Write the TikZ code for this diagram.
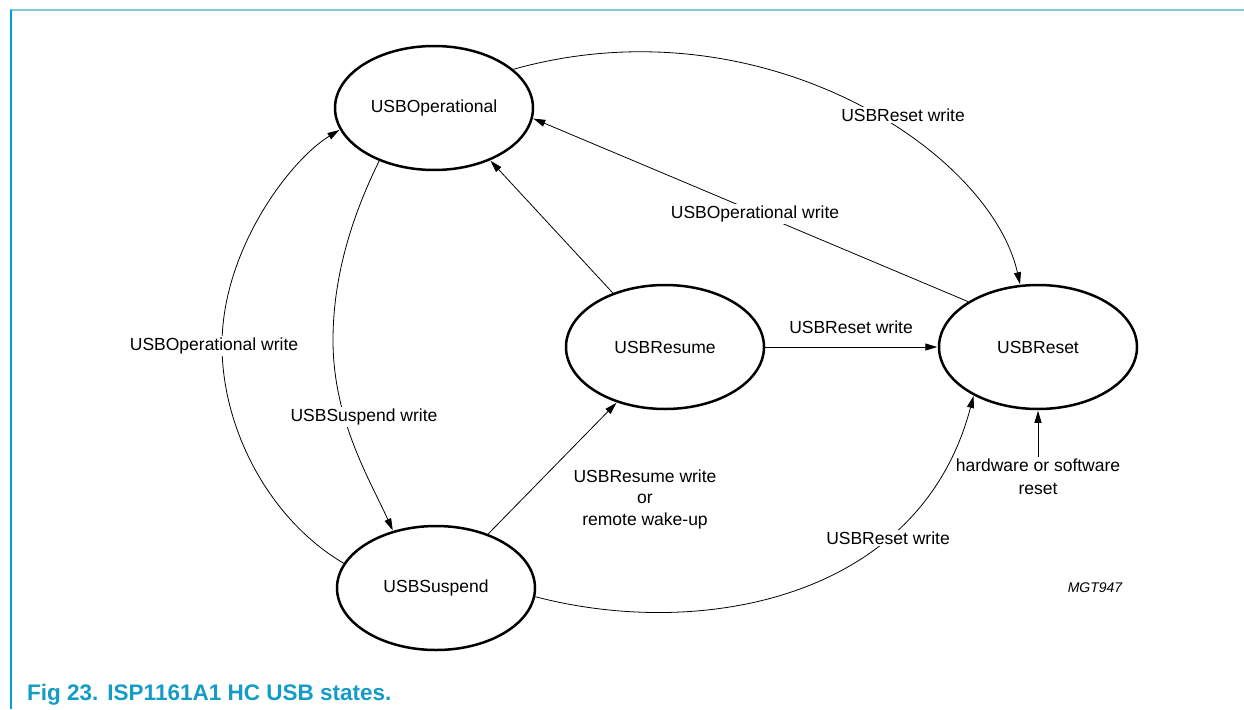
\documentclass[tikz,border=0pt]{standalone}
\usepackage{fontspec}
\setmainfont{Liberation Sans}
\usetikzlibrary{arrows.meta,shapes.geometric}
\definecolor{capblue}{RGB}{20,155,200}
\definecolor{topline}{RGB}{125,205,225}
\definecolor{leftline}{RGB}{0,160,210}
\begin{document}
\begin{tikzpicture}[x=1pt,y=-1pt,
  state/.style={ellipse,draw,line width=2.5pt,minimum width=198pt,minimum height=124pt,inner sep=0pt,font=\fontsize{17.5}{21}\selectfont},
  trans/.style={line width=0.8pt,-{Triangle[length=12pt,width=7pt]},shorten >=0.5pt},
  lbl/.style={fill=white,inner sep=2pt,font=\fontsize{17.5}{21}\selectfont,align=center}]
\useasboundingbox (0,0) rectangle (1244,709);
\draw[topline,line width=2pt] (10,10) -- (1244,10);
\draw[leftline,line width=1.5pt] (11,10) -- (11,709);

\node[state] (op) at (434,108) {USBOperational};
\node[state] (res) at (665,347) {USBResume};
\node[state] (rst) at (1038,347) {USBReset};
\node[state] (sus) at (436,588) {USBSuspend};

\draw[trans] (op.26) .. controls (760,0) and (990,150) .. (rst.106);
\draw[trans] (rst.147) -- (op.-6);
\draw[trans] (res.134) -- (op.-43);
\draw[trans] (res) -- (rst);
\draw[trans] (sus.46) -- (res.-131);
\draw[trans] (sus.-5) .. controls (700,640) and (920,600) .. (rst.-143);
\draw[trans] (op.224) .. controls (350,220) and (333,280) .. (333,340) .. controls (333,420) and (370,480) .. (sus.127);
\draw[trans] (sus.165) .. controls (270,520) and (222,430) .. (222,345) .. controls (222,250) and (290,160) .. (op.193);

\node[lbl] (l1) at (903,115) {USBReset write};
\node[lbl] (l2) at (755,214) {USBOperational write};
\node[lbl,fill=none] (l3) at (851,327) {USBReset write};
\node[lbl] (l4) at (214,346) {USBOperational write};
\node[lbl] (l5) at (364,417) {USBSuspend write};
\node[lbl,font=\fontsize{17.5}{21.5}\selectfont] (l6) at (645,499) {USBResume write\\or\\remote wake-up};
\node[lbl] (l7) at (888,538) {USBReset write};
\node[lbl,font=\fontsize{17.5}{23}\selectfont] (hw) at (1038,477) {hardware or software\\reset};
\draw[trans] (hw) -- (rst);
\node[font=\fontsize{14}{16}\selectfont\itshape] (mgt) at (1095,588) {MGT947};
\node[anchor=base west,inner sep=0pt,text=capblue,font=\fontsize{22.5}{27}\selectfont\bfseries] (cap) at (27,700) {Fig 23.\hspace{9pt}ISP1161A1 HC USB states.};
\end{tikzpicture}
\end{document}
